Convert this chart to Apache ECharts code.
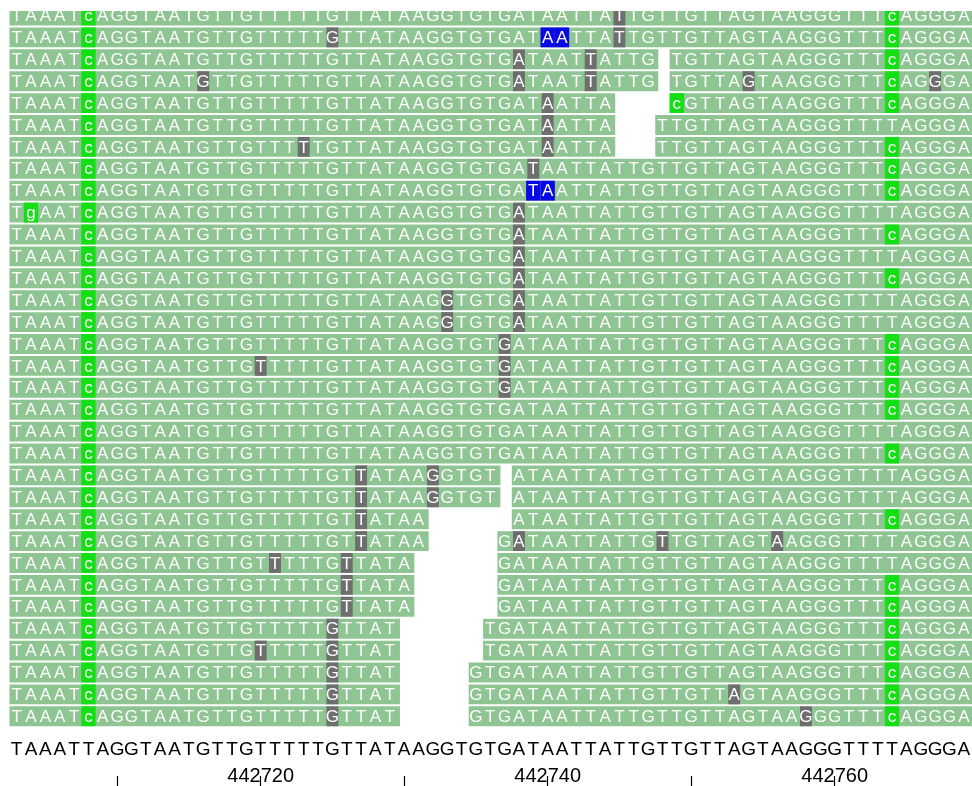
<!DOCTYPE html>
<html>
<head>
<meta charset="utf-8">
<script src="https://cdn.jsdelivr.net/npm/echarts@6/dist/echarts.min.js"></script>
<style>
  html, body { margin: 0; padding: 0; background: #ffffff; }
  #chart { width: 972px; height: 786px; }
</style>
</head>
<body>
<div id="chart"></div>
<script>
// Consensus sequence of the window and the coordinate of its first base
const refSeq = 'TAAATTAGGTAATGTTGTTTTTGTTATAAGGTGTGATAATTATTGTTGTTAGTAAGGGTTTTAGGGA';
const firstPos = 442703;

// Coordinate ruler
const tickPositions = [442710, 442720, 442730, 442740, 442750, 442760];
const labelPositions = [442720, 442740, 442760];

// Aligned read pieces, one entry per contiguous piece: [row, firstCol, lastCol]
const readSegments = [
  [0, 0, 66],
  [1, 0, 66],
  [2, 0, 44], [2, 46, 66],
  [3, 0, 44], [3, 46, 66],
  [4, 0, 41], [4, 46, 66],
  [5, 0, 41], [5, 45, 66],
  [6, 0, 41], [6, 45, 66],
  [7, 0, 66], [8, 0, 66], [9, 0, 66], [10, 0, 66], [11, 0, 66],
  [12, 0, 66], [13, 0, 66], [14, 0, 66], [15, 0, 66], [16, 0, 66],
  [17, 0, 66], [18, 0, 66], [19, 0, 66], [20, 0, 66],
  [21, 0, 33], [21, 35, 66],
  [22, 0, 33], [22, 35, 66],
  [23, 0, 28], [23, 35, 66],
  [24, 0, 28], [24, 34, 66],
  [25, 0, 27], [25, 34, 66],
  [26, 0, 27], [26, 34, 66],
  [27, 0, 27], [27, 34, 66],
  [28, 0, 26], [28, 33, 66],
  [29, 0, 26], [29, 33, 66],
  [30, 0, 26], [30, 32, 66],
  [31, 0, 26], [31, 32, 66],
  [32, 0, 26], [32, 32, 66]
];

// Rows carrying a 'c' instead of the consensus base at columns 5 and 61
const cAtCol5Rows = [0, 1, 2, 3, 4, 5, 6, 7, 8, 9, 10, 11, 12, 13, 14, 15, 16,
                     17, 18, 19, 20, 21, 22, 23, 24, 25, 26, 27, 28, 29, 30, 31, 32];
const cAtCol61Rows = [0, 1, 2, 3, 4, 6, 7, 8, 10, 12, 15, 16, 17, 18, 20, 23,
                      26, 27, 28, 29, 30, 31, 32];
// Other base substitutions: [row, col, base]
const otherSubstitutions = [[4, 46, 'c'], [9, 1, 'g']];

// Low-quality bases (grey): [row, col]
const lowQualityCells = [
  [0, 42], [1, 22], [1, 42], [2, 35], [2, 40], [3, 13], [3, 35], [3, 40], [3, 51], [3, 64],
  [4, 37], [5, 37], [6, 20], [6, 37], [7, 36], [9, 35], [10, 35], [11, 35], [12, 35],
  [13, 30], [13, 35], [14, 30], [14, 35], [15, 34], [16, 17], [16, 34], [17, 34],
  [21, 24], [21, 29], [22, 24], [22, 29], [23, 24], [24, 24], [24, 35], [24, 45], [24, 53],
  [25, 18], [25, 23], [26, 23], [27, 23], [28, 22], [29, 17], [29, 22], [30, 22],
  [31, 22], [31, 50], [32, 22], [32, 55]
];
// Bases flagged in blue: [row, col]
const flaggedCells = [[1, 37], [1, 38], [8, 36], [8, 37]];

// ---- layout ----
const GRID_TOP = 11;
const ROW_PITCH = 21.9;          // pixels per row
const READ_FRAC = 19.9 / 21.9;   // filled part of a row
const Y_MIN = 0.25;
const Y_MAX = Y_MIN + (786 - GRID_TOP) / ROW_PITCH;
const REF_ROW = 34.0;            // where the consensus line sits

const COLORS = { read: '#8fc593', low: '#6e6e6e', sub: '#14df14', flag: '#0808e4' };
const READ_FONT = '17px "Liberation Sans", Arial, sans-serif';

// Build the highlighted-cell table: [row, col, kind, base]
// kind 0 = low quality, 1 = flagged, 2 = substitution
const cellData = [];
lowQualityCells.forEach(([r, c]) => cellData.push([r, c, 0, refSeq[c]]));
flaggedCells.forEach(([r, c]) => cellData.push([r, c, 1, refSeq[c]]));
cAtCol5Rows.forEach(r => cellData.push([r, 5, 2, 'c']));
cAtCol61Rows.forEach(r => cellData.push([r, 61, 2, 'c']));
otherSubstitutions.forEach(([r, c, b]) => cellData.push([r, c, 2, b]));
const marked = new Set(cellData.map(d => d[0] + ':' + d[1]));

const refData = refSeq.split('').map((b, i) => [firstPos + i, REF_ROW, b]);

function renderRead(params, api) {
  const row = api.value(0), c0 = api.value(1), c1 = api.value(2);
  const tl = api.coord([firstPos + c0 - 0.5, row]);
  const br = api.coord([firstPos + c1 + 0.5, row + READ_FRAC]);
  const children = [{
    type: 'rect',
    shape: { x: tl[0], y: tl[1], width: br[0] - tl[0] + 3, height: br[1] - tl[1] },
    style: { fill: COLORS.read }
  }];
  for (let c = c0; c <= c1; c++) {
    if (marked.has(row + ':' + c)) continue;
    const p = api.coord([firstPos + c, row + READ_FRAC / 2]);
    children.push({
      type: 'text',
      style: { text: refSeq[c], x: p[0], y: p[1] + 1, fill: '#ffffff', font: READ_FONT,
               align: 'center', verticalAlign: 'middle' }
    });
  }
  return { type: 'group', children };
}

function renderCell(params, api) {
  const row = api.value(0), c = api.value(1), kind = api.value(2);
  const base = cellData[params.dataIndex][3];
  const tl = api.coord([firstPos + c - 0.5, row]);
  const br = api.coord([firstPos + c + 0.5, row + READ_FRAC]);
  const inset = kind === 0 ? 1.2 : 0;
  const fill = kind === 0 ? COLORS.low : (kind === 1 ? COLORS.flag : COLORS.sub);
  const mid = api.coord([firstPos + c, row + READ_FRAC / 2]);
  return {
    type: 'group',
    children: [
      { type: 'rect',
        shape: { x: tl[0] + inset, y: tl[1], width: br[0] - tl[0] - 2 * inset, height: br[1] - tl[1] },
        style: { fill } },
      { type: 'text',
        style: { text: base, x: mid[0], y: mid[1] + 1, fill: '#ffffff', font: READ_FONT,
                 align: 'center', verticalAlign: 'middle' } }
    ]
  };
}

function renderRef(params, api) {
  const p = api.coord([api.value(0), api.value(1)]);
  return {
    type: 'text',
    style: { text: refData[params.dataIndex][2], x: p[0], y: p[1], fill: '#000000',
             font: '19px "Liberation Sans", Arial, sans-serif',
             align: 'center', verticalAlign: 'middle' }
  };
}

const chart = echarts.init(document.getElementById('chart'), null, { renderer: 'canvas' });
chart.setOption({
  animation: false,
  backgroundColor: '#ffffff',
  grid: { left: 9.5, right: 1, top: GRID_TOP, bottom: 0, containLabel: false },
  xAxis: {
    type: 'value',
    min: firstPos - 0.5,
    max: firstPos + refSeq.length - 0.5,
    axisLine: { show: false },
    splitLine: { show: false },
    axisTick: { show: true, inside: true, length: 10, customValues: tickPositions,
                lineStyle: { color: '#000000', width: 1.2 } },
    axisLabel: { show: true, inside: true, margin: 0, customValues: labelPositions,
                 formatter: v => String(v),
                 color: '#000000', fontSize: 20,
                 fontFamily: '"Liberation Sans Narrow", "Liberation Sans", Arial, sans-serif' }
  },
  yAxis: { type: 'value', inverse: true, min: Y_MIN, max: Y_MAX, show: false },
  series: [
    { type: 'custom', clip: true, renderItem: renderRead, data: readSegments,
      encode: { x: [1, 2], y: 0 } },
    { type: 'custom', clip: true, renderItem: renderCell,
      data: cellData.map(d => [d[0], d[1], d[2]]), encode: { x: 1, y: 0 } },
    { type: 'custom', renderItem: renderRef,
      data: refData.map(d => [d[0], d[1]]), encode: { x: 0, y: 1 } }
  ]
});
</script>
</body>
</html>
